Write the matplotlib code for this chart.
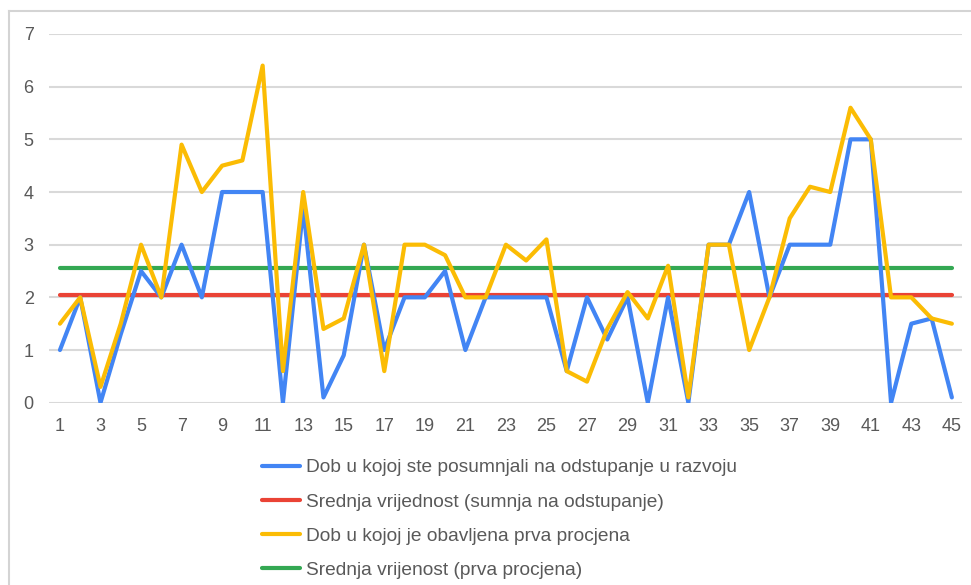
import matplotlib
matplotlib.use("Agg")
import matplotlib.pyplot as plt
from matplotlib.lines import Line2D

plt.rcParams['font.family'] = ['Liberation Sans', 'DejaVu Sans']

# redni broj ispitanika
ispitanici = list(range(1, 46))

# dob u kojoj ste posumnjali na odstupanje u razvoju
sumnja = [1, 2, 0, 1.3, 2.5, 2, 3, 2, 4, 4, 4, 0, 3.7, 0.1, 0.9,
          3, 1, 2, 2, 2.5, 1, 2, 2, 2, 2, 0.6, 2, 1.2, 2, 0,
          2, 0, 3, 3, 4, 2, 3, 3, 3, 5, 5, 0, 1.5, 1.6, 0.1]

# dob u kojoj je obavljena prva procjena
procjena = [1.5, 2, 0.3, 1.5, 3, 2, 4.9, 4, 4.5, 4.6, 6.4, 0.6, 4, 1.4, 1.6,
            3, 0.6, 3, 3, 2.8, 2, 2, 3, 2.7, 3.1, 0.6, 0.4, 1.4, 2.1, 1.6,
            2.6, 0.1, 3, 3, 1, 2, 3.5, 4.1, 4, 5.6, 5, 2, 2, 1.6, 1.5]

srednja_sumnja = 2.04
srednja_procjena = 2.55

labels = ['Dob u kojoj ste posumnjali na odstupanje u razvoju',
          'Srednja vrijednost (sumnja na odstupanje)',
          'Dob u kojoj je obavljena prva procjena',
          'Srednja vrijenost (prva procjena)']
colors = ['#4285F4', '#EA4335', '#FBBC04', '#34A853']

fig = plt.figure(figsize=(9.71, 5.85), dpi=100)
ax = fig.add_axes([49 / 971, 1 - 402.7 / 585, (962 - 49) / 971, (402.7 - 34) / 585])

style = dict(linewidth=3, solid_capstyle='round', solid_joinstyle='round')
ax.plot(ispitanici, sumnja, color=colors[0], label=labels[0], zorder=3, **style)
ax.plot(ispitanici, [srednja_sumnja] * len(ispitanici), color=colors[1], label=labels[1], zorder=2, **style)
ax.plot(ispitanici, procjena, color=colors[2], label=labels[2], zorder=4, **style)
ax.plot(ispitanici, [srednja_procjena] * len(ispitanici), color=colors[3], label=labels[3], zorder=2, **style)

ax.set_xlim(0.46, 45.5)
ax.set_ylim(0, 7)
ax.set_xticks(ispitanici[::2])
ax.set_yticks(range(0, 8))
ax.grid(axis='y', color='#d9d9d9', linewidth=1.5)
ax.set_axisbelow(True)
for s in ax.spines.values():
    s.set_visible(False)
ax.tick_params(length=0, labelsize=13, labelcolor='#595959')
ax.tick_params(axis='x', pad=11)
ax.tick_params(axis='y', pad=11)

fig.legend(loc='center left', bbox_to_anchor=(262 / 971, 1 - 519 / 585), frameon=False,
           fontsize=13.8, labelcolor='#595959', handlelength=2.0, handletextpad=0.3,
           labelspacing=0.88, borderpad=0, borderaxespad=0)

# okvir slike
fig.add_artist(Line2D([9 / 971, 9 / 971], [0, 1 - 11 / 585], color='#d4d4d4', linewidth=1.5))
fig.add_artist(Line2D([9 / 971, 1], [1 - 11 / 585, 1 - 11 / 585], color='#d4d4d4', linewidth=1.5))

fig.savefig('out.png', dpi=100)
